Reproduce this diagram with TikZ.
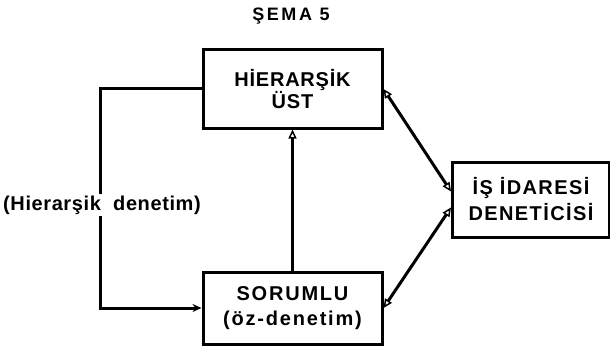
\documentclass[tikz,border=0pt]{standalone}
\usepackage{fontspec}
\setmainfont{Liberation Sans}
\usetikzlibrary{arrows.meta}
\begin{document}
\begin{tikzpicture}[x=1pt,y=1pt,
  box/.style={draw,line width=3pt,inner sep=0pt,align=center},
  conn/.style={line width=3pt},
  open/.style={-{Triangle[open,length=9pt,width=8pt,line width=1.5pt]}},
  both/.style={{Triangle[open,length=9pt,width=8pt,line width=1.5pt]}-{Triangle[open,length=9pt,width=8pt,line width=1.5pt]}}]
\useasboundingbox (0,0) rectangle (610,346);
\node[font=\bfseries\fontsize{18}{20}\selectfont\addfontfeatures{LetterSpace=14}] (title) at (291,330) {ŞEMA 5};
\node[box,minimum width=179pt,minimum height=78pt,font=\bfseries\fontsize{20}{22}\selectfont\addfontfeatures{LetterSpace=4}] (ust) at (292.5,257) {HİERARŞİK\\ÜST};
\node[box,minimum width=179pt,minimum height=72pt,font=\bfseries\fontsize{20}{25}\selectfont\addfontfeatures{LetterSpace=9}] (sor) at (292.5,38) {SORUMLU\\(öz-denetim)};
\node[box,minimum width=157pt,minimum height=75pt,font=\bfseries\fontsize{20}{26}\selectfont\addfontfeatures{LetterSpace=7}] (ida) at (531,146.5) {İŞ İDARESİ\\DENETİCİSİ};
\coordinate (lt) at (100,257);
\coordinate (lb) at (100,38);
\draw[conn,-{Stealth[length=9pt,width=8pt]}] (ust.west) -- (lt) -- (lb) -- (sor.west);
\node[fill=white,inner sep=2pt,font=\bfseries\fontsize{20}{22}\selectfont\addfontfeatures{LetterSpace=3}] (lab) at (102,141) {(Hierarşik\ \ denetim)};
\draw[conn,open] (sor.north) -- (ust.south);
\draw[conn,both] ([yshift=8pt]ida.west) -- (ust.east);
\draw[conn,both] ([yshift=-8pt]ida.west) -- (sor.east);
\end{tikzpicture}
\end{document}
